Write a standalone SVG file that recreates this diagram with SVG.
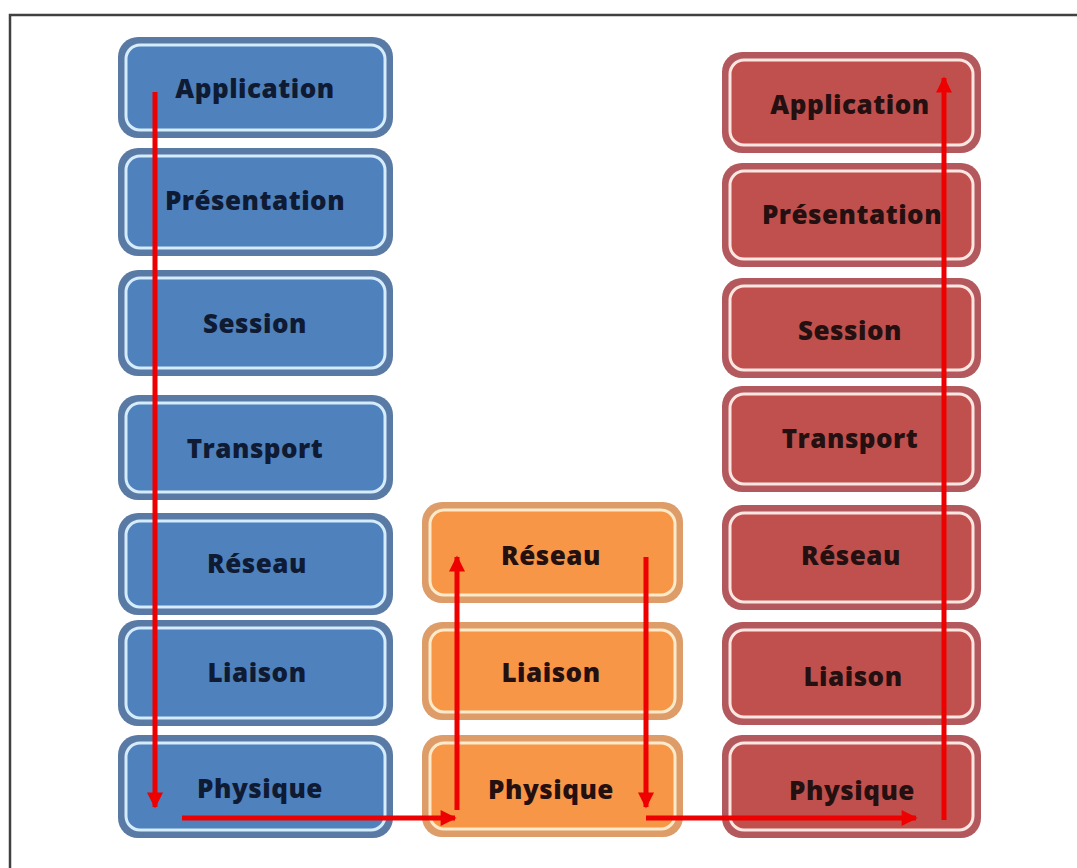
<svg xmlns="http://www.w3.org/2000/svg" width="1077" height="868" viewBox="0 0 1077 868">
  <style>
    .frame { fill: none; stroke: #404040; stroke-width: 2.5; }
    .outer { stroke: none; }
    .inner { stroke-width: 3; }
    .blue .outer { fill: #5a7aa6; }
    .blue .inner { fill: #4f81bd; stroke: #d4ecfb; }
    .orange .outer { fill: #dd9c68; }
    .orange .inner { fill: #f79646; stroke: #fdeacb; }
    .red .outer { fill: #b3585c; }
    .red .inner { fill: #c0504d; stroke: #fbe6e2; }
    .label { font-family: "Open Sans", "Liberation Sans", sans-serif; font-weight: 800; font-size: 26px; letter-spacing: 0.5px; text-anchor: middle; dominant-baseline: central; }
    .blue .label { fill: #0f1a33; }
    .orange .label, .red .label { fill: #241010; }
    .arrow { fill: none; stroke: #ee0000; stroke-width: 5; marker-end: url(#head); }
  </style>
  <defs>
    <marker id="head" viewBox="0 0 10 10" refX="9" refY="5" markerWidth="3.4" markerHeight="3.2" orient="auto" markerUnits="strokeWidth">
      <path d="M0,0 L10,5 L0,10 Z" fill="#ee0000"/>
    </marker>
  </defs>

  <rect width="1077" height="868" fill="#ffffff"/>
  <rect class="frame" x="10" y="15" width="1080" height="870"/>

  <!-- Sending host (blue column) -->
  <g id="src-application" class="blue">
    <rect class="outer" x="118" y="37" width="275" height="101" rx="20"/>
    <rect class="inner" x="126" y="45" width="259" height="85" rx="14"/>
    <text class="label" x="255" y="88">Application</text>
  </g>
  <g id="src-presentation" class="blue">
    <rect class="outer" x="118" y="148" width="275" height="108" rx="20"/>
    <rect class="inner" x="126" y="156" width="259" height="92" rx="14"/>
    <text class="label" x="255" y="200">Présentation</text>
  </g>
  <g id="src-session" class="blue">
    <rect class="outer" x="118" y="270" width="275" height="106" rx="20"/>
    <rect class="inner" x="126" y="278" width="259" height="90" rx="14"/>
    <text class="label" x="255" y="323">Session</text>
  </g>
  <g id="src-transport" class="blue">
    <rect class="outer" x="118" y="395" width="275" height="105" rx="20"/>
    <rect class="inner" x="126" y="403" width="259" height="89" rx="14"/>
    <text class="label" x="255" y="448">Transport</text>
  </g>
  <g id="src-reseau" class="blue">
    <rect class="outer" x="118" y="513" width="275" height="102" rx="20"/>
    <rect class="inner" x="126" y="521" width="259" height="86" rx="14"/>
    <text class="label" x="257" y="563">Réseau</text>
  </g>
  <g id="src-liaison" class="blue">
    <rect class="outer" x="118" y="620" width="275" height="106" rx="20"/>
    <rect class="inner" x="126" y="628" width="259" height="90" rx="14"/>
    <text class="label" x="257" y="672">Liaison</text>
  </g>
  <g id="src-physique" class="blue">
    <rect class="outer" x="118" y="735" width="275" height="103" rx="20"/>
    <rect class="inner" x="126" y="743" width="259" height="87" rx="14"/>
    <text class="label" x="260" y="788">Physique</text>
  </g>

  <!-- Intermediate router (orange column) -->
  <g id="mid-reseau" class="orange">
    <rect class="outer" x="422" y="502" width="261" height="101" rx="20"/>
    <rect class="inner" x="430" y="510" width="245" height="85" rx="14"/>
    <text class="label" x="551" y="555">Réseau</text>
  </g>
  <g id="mid-liaison" class="orange">
    <rect class="outer" x="422" y="622" width="261" height="98" rx="20"/>
    <rect class="inner" x="430" y="630" width="245" height="82" rx="14"/>
    <text class="label" x="551" y="672">Liaison</text>
  </g>
  <g id="mid-physique" class="orange">
    <rect class="outer" x="422" y="735" width="261" height="102" rx="20"/>
    <rect class="inner" x="430" y="743" width="245" height="86" rx="14"/>
    <text class="label" x="551" y="789">Physique</text>
  </g>

  <!-- Receiving host (red column) -->
  <g id="dst-application" class="red">
    <rect class="outer" x="722" y="52" width="259" height="101" rx="20"/>
    <rect class="inner" x="730" y="60" width="243" height="85" rx="14"/>
    <text class="label" x="850" y="104">Application</text>
  </g>
  <g id="dst-presentation" class="red">
    <rect class="outer" x="722" y="163" width="259" height="104" rx="20"/>
    <rect class="inner" x="730" y="171" width="243" height="88" rx="14"/>
    <text class="label" x="852" y="214">Présentation</text>
  </g>
  <g id="dst-session" class="red">
    <rect class="outer" x="722" y="278" width="259" height="100" rx="20"/>
    <rect class="inner" x="730" y="286" width="243" height="84" rx="14"/>
    <text class="label" x="850" y="330">Session</text>
  </g>
  <g id="dst-transport" class="red">
    <rect class="outer" x="722" y="386" width="259" height="106" rx="20"/>
    <rect class="inner" x="730" y="394" width="243" height="90" rx="14"/>
    <text class="label" x="850" y="438">Transport</text>
  </g>
  <g id="dst-reseau" class="red">
    <rect class="outer" x="722" y="505" width="259" height="105" rx="20"/>
    <rect class="inner" x="730" y="513" width="243" height="89" rx="14"/>
    <text class="label" x="851" y="555">Réseau</text>
  </g>
  <g id="dst-liaison" class="red">
    <rect class="outer" x="722" y="622" width="259" height="103" rx="20"/>
    <rect class="inner" x="730" y="630" width="243" height="87" rx="14"/>
    <text class="label" x="853" y="676">Liaison</text>
  </g>
  <g id="dst-physique" class="red">
    <rect class="outer" x="722" y="735" width="259" height="103" rx="20"/>
    <rect class="inner" x="730" y="743" width="243" height="87" rx="14"/>
    <text class="label" x="852" y="790">Physique</text>
  </g>

  <!-- Data path through the layers -->
  <g id="connectors">
    <line class="arrow" x1="155" y1="92" x2="155" y2="807"/>
    <line class="arrow" x1="182" y1="818" x2="455" y2="818"/>
    <line class="arrow" x1="457" y1="810" x2="457" y2="557"/>
    <line class="arrow" x1="646" y1="557" x2="646" y2="807"/>
    <line class="arrow" x1="646" y1="818" x2="916" y2="818"/>
    <line class="arrow" x1="944" y1="820" x2="944" y2="78"/>
  </g>
</svg>
